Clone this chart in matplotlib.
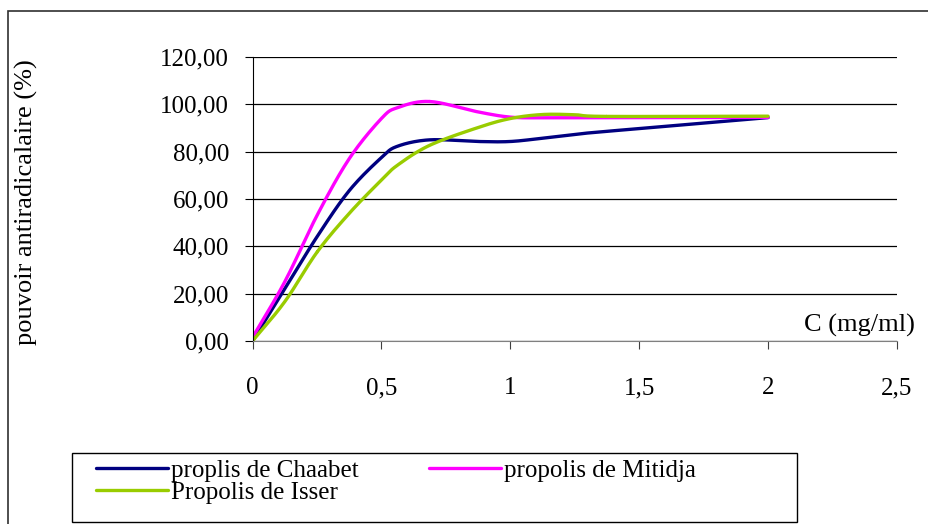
import numpy as np
import matplotlib
matplotlib.use("Agg")
import matplotlib.pyplot as plt
from matplotlib.patches import Rectangle
from matplotlib.ticker import FuncFormatter

# concentrations (mg/ml)
conc = [0, 0.125, 0.25, 0.375, 0.5, 0.5625, 0.6875, 0.875, 1.0, 1.125, 1.25, 1.375, 2.0]

chaabet = [0, 22, 44, 63.5, 77.5, 82.3, 85, 84.3, 84.3, 85.7, 87.3, 88.6, 94.4]
mitidja = [1.5, 25, 53, 77, 94, 98.6, 101.2, 96.8, 94.6, 94.3, 94.3, 94.3, 94.5]
isser = [0, 16.6, 37.5, 53.9, 68, 74.3, 82.7, 90.2, 94, 95.7, 95.6, 94.9, 95.0]

labels = ["proplis de Chaabet", "propolis de Mitidja", "Propolis de Isser"]
colors = ["#000080", "#FF00FF", "#99CC00"]


def smooth(x, y, n=20):
    # catmull-rom curve through the points (like excel's smoothed line)
    x = np.asarray(x, float)
    y = np.asarray(y, float)
    px = np.concatenate([[2 * x[0] - x[1]], x, [2 * x[-1] - x[-2]]])
    py = np.concatenate([[2 * y[0] - y[1]], y, [2 * y[-1] - y[-2]]])
    xs, ys = [], []
    t = np.linspace(0, 1, n)
    for i in range(1, len(px) - 2):
        for p, out in ((px, xs), (py, ys)):
            p0, p1, p2, p3 = p[i - 1], p[i], p[i + 1], p[i + 2]
            out.extend(0.5 * ((2 * p1) + (-p0 + p2) * t
                              + (2 * p0 - 5 * p1 + 4 * p2 - p3) * t ** 2
                              + (-p0 + 3 * p1 - 3 * p2 + p3) * t ** 3))
    return xs, ys


plt.rcParams["font.family"] = ["Liberation Serif", "DejaVu Serif"]

fig = plt.figure(figsize=(9.29, 5.24), dpi=100)
ax = fig.add_axes([0.2718, 0.3492, 0.6937, 0.542])

handles = []
for ys, lab, c in zip([chaabet, mitidja, isser], labels, colors):
    sx, sy = smooth(conc, ys)
    h, = ax.plot(sx, sy, color=c, lw=2.4, label=lab, solid_capstyle="round")
    handles.append(h)

ax.set_xlim(0, 2.5)
ax.set_ylim(0, 120)
ax.set_xticks([0, 0.5, 1, 1.5, 2, 2.5])
ax.set_yticks(range(0, 121, 20))
ax.xaxis.set_major_formatter(FuncFormatter(lambda v, p: ("%g" % v).replace(".", ",")))
ax.yaxis.set_major_formatter(FuncFormatter(lambda v, p: ("%.2f" % v).replace(".", ",")))
ax.grid(axis="y", color="black", lw=0.9)
ax.set_axisbelow(True)
for s in ["top", "right"]:
    ax.spines[s].set_visible(False)
ax.spines["left"].set_color("black")
ax.spines["bottom"].set_color("#808080")
ax.tick_params(axis="x", direction="out", length=6, pad=20, labelsize=18, color="#404040")
ax.tick_params(axis="y", direction="out", length=6, pad=11, labelsize=18)

ax.set_ylabel("pouvoir antiradicalaire (%)", fontsize=19)
ax.yaxis.set_label_coords(-0.333, 0.49)

fig.text(915 / 929, 1 - 325 / 524, "C (mg/ml)", ha="right", va="center", fontsize=19)

# outer frame
fig.patches.append(Rectangle((8 / 929, -0.05), 1.2, 1 - 11 / 524 + 0.05,
                             transform=fig.transFigure, fill=False,
                             edgecolor="#303030", lw=1.2))

# legend box
fig.patches.append(Rectangle((72 / 929, 1 - 522 / 524), 725 / 929, 69 / 524,
                             transform=fig.transFigure, fill=False,
                             edgecolor="black", lw=1.0))

leg = fig.legend([handles[0], handles[2], handles[1]],
                 [labels[0], labels[2], labels[1]],
                 ncol=2, loc="upper left",
                 bbox_to_anchor=(96 / 929, 1 - 459 / 524),
                 borderaxespad=0, borderpad=0, fontsize=18, handlelength=2.9,
                 handletextpad=0.1, labelspacing=0.0, columnspacing=2.8,
                 frameon=False)

fig.savefig("out.png", dpi=100)
